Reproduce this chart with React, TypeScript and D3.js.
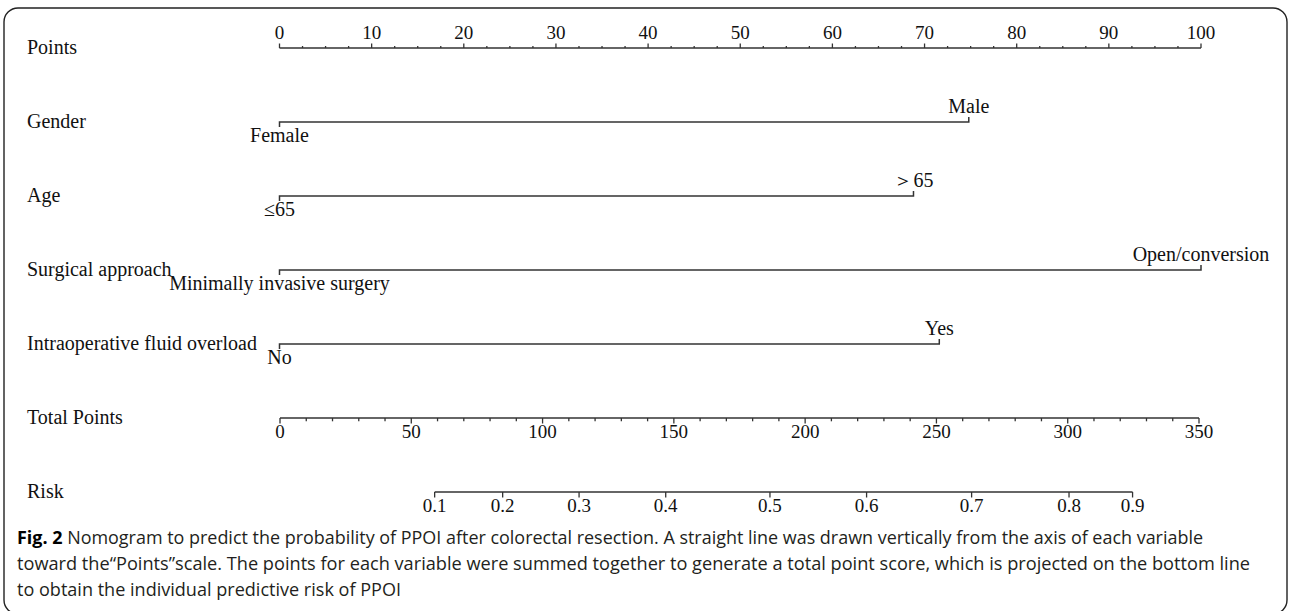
import { useEffect, useRef } from "react";
import * as d3 from "d3";

// nomogram content
const pointTicks = [0, 10, 20, 30, 40, 50, 60, 70, 80, 90, 100];
const variables = ["Gender", "Age", "Surgical approach", "Intraoperative fluid overload"];
const lowLevels = ["Female", "≤65", "Minimally invasive surgery", "No"];
const highLevels = ["Male", "＞65", "Open/conversion", "Yes"];
const highPoints = [74.8, 68.8, 100, 71.6];
const totalTicks = [0, 50, 100, 150, 200, 250, 300, 350];
const riskLabels = ["0.1", "0.2", "0.3", "0.4", "0.5", "0.6", "0.7", "0.8", "0.9"];
const riskAtTotal = [58.9, 84.8, 113.9, 146.9, 186.6, 223.4, 263.4, 300.5, 324.7];

const captionLines = [
  "Nomogram to predict the probability of PPOI after colorectal resection. A straight line was drawn vertically from the axis of each variable",
  "toward the\u201cPoints\u201dscale. The points for each variable were summed together to generate a total point score, which is projected on the bottom line",
  "to obtain the individual predictive risk of PPOI",
];
// line widths in the figure; the last line follows the others' squeeze
const captionWidths = [1186, 1233, null];

const W = 1290;
const H = 611;
const serif = "'Liberation Serif', 'Times New Roman', serif";
const ink = "#333";

const App = () => {
  const svgRef = useRef<SVGSVGElement | null>(null);

  useEffect(() => {
    const svg = d3.select(svgRef.current);
    svg.selectAll("*").remove();

    const xPts = d3.scaleLinear().domain([0, 100]).range([279.5, 1201]);
    const xTot = d3.scaleLinear().domain([0, 350]).range([280, 1199]);
    const rows = ["Points", ...variables, "Total Points", "Risk"];
    const yRow = d3.scaleLinear().domain([0, rows.length - 1]).range([48, 492]);

    // frame
    svg
      .append("rect")
      .attr("x", 4)
      .attr("y", 8)
      .attr("width", 1283)
      .attr("height", 606)
      .attr("rx", 14)
      .attr("fill", "white")
      .attr("stroke", "#222")
      .attr("stroke-width", 1.4);

    // row names
    svg
      .selectAll(".rowname")
      .data(rows)
      .enter()
      .append("text")
      .attr("x", 27)
      .attr("y", (_, i) => yRow(i) + 6)
      .attr("font-family", serif)
      .attr("font-size", 20)
      .attr("fill", "#111")
      .text((d) => d);

    // Points scale
    const gP = svg.append("g");
    const yP = yRow(0);
    gP.append("line")
      .attr("x1", xPts(0))
      .attr("x2", xPts(100))
      .attr("y1", yP)
      .attr("y2", yP)
      .attr("stroke", ink)
      .attr("stroke-width", 1.5);
    gP.selectAll(".minor")
      .data(d3.range(0, 100.01, 2.5))
      .enter()
      .append("line")
      .attr("x1", (d) => xPts(d))
      .attr("x2", (d) => xPts(d))
      .attr("y1", yP)
      .attr("y2", (d) => (d % 10 === 0 ? yP - 4.5 : yP - 2))
      .attr("stroke", ink)
      .attr("stroke-width", 1.3);
    gP.selectAll(".lab")
      .data(pointTicks)
      .enter()
      .append("text")
      .attr("x", (d) => xPts(d))
      .attr("y", yP - 9)
      .attr("text-anchor", "middle")
      .attr("font-family", serif)
      .attr("font-size", 19)
      .attr("fill", "#111")
      .text((d) => d);

    // variable lines
    variables.forEach((_, i) => {
      const y = yRow(i + 1);
      const g = svg.append("g");
      const x0 = xPts(0);
      const x1 = xPts(highPoints[i]);
      g.append("path")
        .attr("d", `M${x0},${y + 5}V${y}H${x1}V${y - 5}`)
        .attr("fill", "none")
        .attr("stroke", ink)
        .attr("stroke-width", 1.5);
      g.append("text")
        .attr("x", x0)
        .attr("y", y + 20)
        .attr("text-anchor", "middle")
        .attr("font-family", serif)
        .attr("font-size", 20)
        .attr("fill", "#111")
        .text(lowLevels[i]);
      g.append("text")
        .attr("x", x1)
        .attr("y", y - 9)
        .attr("text-anchor", "middle")
        .attr("font-family", serif)
        .attr("font-size", 20)
        .attr("fill", "#111")
        .text(highLevels[i]);
    });

    // Total Points scale
    const yT = yRow(5);
    const gT = svg.append("g");
    gT.append("line")
      .attr("x1", xTot(0))
      .attr("x2", xTot(350))
      .attr("y1", yT)
      .attr("y2", yT)
      .attr("stroke", ink)
      .attr("stroke-width", 1.5);
    gT.selectAll(".minor")
      .data(d3.range(0, 350.01, 10))
      .enter()
      .append("line")
      .attr("x1", (d) => xTot(d))
      .attr("x2", (d) => xTot(d))
      .attr("y1", yT)
      .attr("y2", (d) => (d % 50 === 0 ? yT + 5.5 : yT + 3.3))
      .attr("stroke", ink)
      .attr("stroke-width", 1.3);
    gT.selectAll(".lab")
      .data(totalTicks)
      .enter()
      .append("text")
      .attr("x", (d) => xTot(d))
      .attr("y", yT + 20)
      .attr("text-anchor", "middle")
      .attr("font-family", serif)
      .attr("font-size", 19)
      .attr("fill", "#111")
      .text((d) => d);

    // Risk scale
    const yR = yRow(6);
    const gR = svg.append("g");
    gR.append("line")
      .attr("x1", xTot(riskAtTotal[0]))
      .attr("x2", xTot(riskAtTotal[riskAtTotal.length - 1]))
      .attr("y1", yR)
      .attr("y2", yR)
      .attr("stroke", ink)
      .attr("stroke-width", 1.5);
    gR.selectAll(".tick")
      .data(riskAtTotal)
      .enter()
      .append("line")
      .attr("x1", (d) => xTot(d))
      .attr("x2", (d) => xTot(d))
      .attr("y1", yR)
      .attr("y2", yR + 5.5)
      .attr("stroke", ink)
      .attr("stroke-width", 1.3);
    gR.selectAll(".lab")
      .data(riskLabels)
      .enter()
      .append("text")
      .attr("x", (_, i) => xTot(riskAtTotal[i]))
      .attr("y", yR + 20)
      .attr("text-anchor", "middle")
      .attr("font-family", serif)
      .attr("font-size", 19)
      .attr("fill", "#111")
      .text((d) => d);

    // caption
    const cap = svg
      .append("g")
      .attr("font-family", "'Open Sans', 'Noto Sans', sans-serif")
      .attr("font-size", 18)
      .attr("fill", "#231f20");
    const texts = captionLines.map((line, i) => {
      const t = cap.append("text").attr("x", 17).attr("y", 544 + i * 26);
      if (i === 0) {
        t.append("tspan").attr("font-weight", "bold").attr("fill", "#000").text("Fig. 2");
        t.append("tspan").text("  " + line);
      } else {
        t.text(line);
      }
      return t;
    });
    const natural = texts.map((t) => (t.node() as SVGTextElement).getComputedTextLength());
    const squeeze = ((captionWidths[0] as number) / natural[0] + (captionWidths[1] as number) / natural[1]) / 2;
    texts.forEach((t, i) => {
      const w = captionWidths[i] ?? natural[i] * squeeze;
      t.attr("textLength", w).attr("lengthAdjust", "spacingAndGlyphs");
    });
  }, []);

  return (
    <svg
      ref={svgRef}
      width={W}
      height={H}
      style={{ position: "absolute", left: 0, top: 0, background: "white" }}
    ></svg>
  );
};

export default App;
